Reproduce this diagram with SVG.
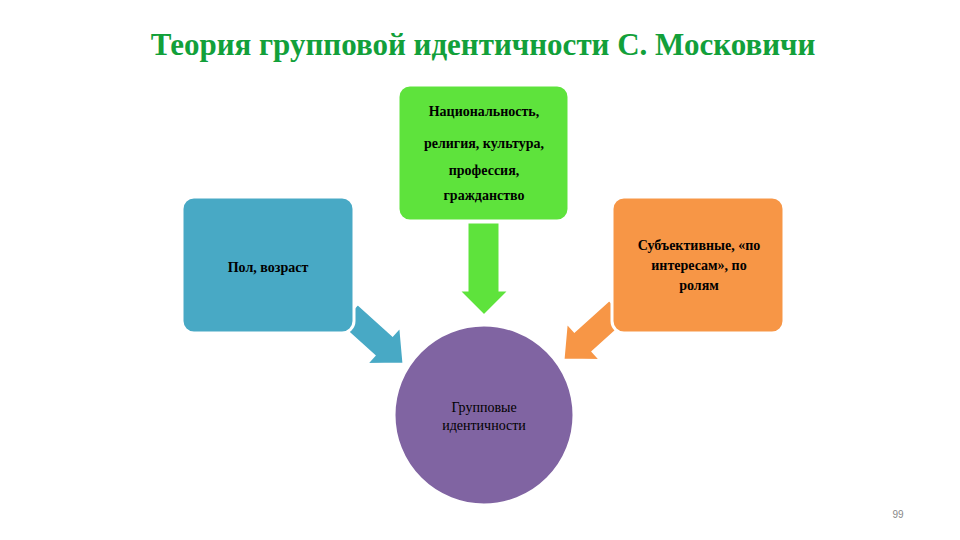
<svg xmlns="http://www.w3.org/2000/svg" width="960" height="540" viewBox="0 0 960 540">
<style>
.t{font-family:"Liberation Serif",serif;font-weight:bold;fill:#000;text-anchor:middle}
.b{stroke:#fff;stroke-width:3}
</style>
<rect width="960" height="540" fill="#fff"/>
<text x="483" y="55" font-family="Liberation Serif,serif" font-weight="bold" font-size="31" fill="#12a03a" text-anchor="middle">Теория групповой идентичности С. Московичи</text>
<g id="connectors">
<polygon class="b" fill="#5ee33c" points="467,222 500,222 500,290 510,290 484,316 458,290 467,290"/>
<g transform="translate(404,364) rotate(42)"><polygon class="b" fill="#48a9c5" points="0,0 -28,-26 -28,-14 -75,-14 -75,14 -28,14 -28,26"/></g>
<g transform="translate(563,360) rotate(138)"><polygon class="b" fill="#f79646" points="0,0 -28,-26 -28,-14 -75,-14 -75,14 -28,14 -28,26"/></g>
</g>
<g id="n1"><rect class="b" x="398" y="85" width="171" height="136" rx="12" fill="#5ee33c"/>
<text class="t" font-size="14"><tspan x="484" y="116">Национальность,</tspan><tspan x="484" y="148">религия, культура,</tspan><tspan x="484" y="175">профессия,</tspan><tspan x="484" y="200">гражданство</tspan></text></g>
<g id="n2"><rect class="b" x="182" y="197" width="172" height="136" rx="12" fill="#48a9c5"/>
<text class="t" font-size="14" x="268" y="272">Пол, возраст</text></g>
<g id="n3"><rect class="b" x="612" y="197" width="172" height="136" rx="12" fill="#f79646"/>
<text class="t" font-size="14"><tspan x="699" y="250">Субъективные, «по</tspan><tspan x="699" y="270">интересам», по</tspan><tspan x="699" y="290">ролям</tspan></text></g>
<g id="n4"><circle class="b" cx="484" cy="415" r="90" fill="#8064a2"/>
<text class="t" font-size="14" font-weight="normal" style="font-weight:normal"><tspan x="484" y="412">Групповые</tspan><tspan x="484" y="430">идентичности</tspan></text></g>
<text x="898" y="518" font-family="Liberation Sans,sans-serif" font-size="10" fill="#888" text-anchor="middle">99</text>
</svg>
